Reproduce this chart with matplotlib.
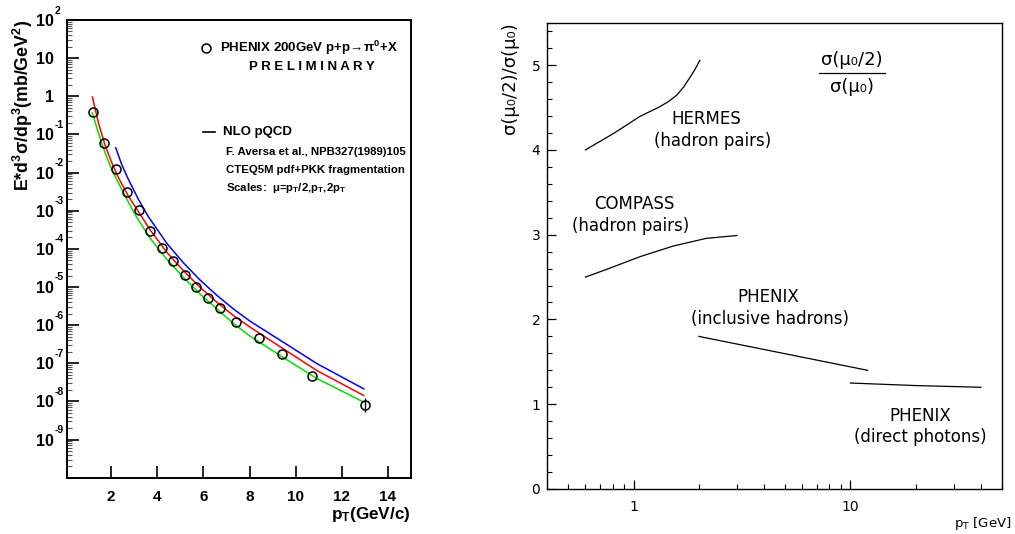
import matplotlib
matplotlib.use("Agg")
import matplotlib.pyplot as plt
from matplotlib.lines import Line2D
from matplotlib import transforms as mtrans
from matplotlib.ticker import FixedLocator, NullFormatter, NullLocator

# ---------------- data: left panel ----------------
pt_data = [1.2, 1.7, 2.2, 2.7, 3.2, 3.7, 4.2, 4.7, 5.2, 5.7, 6.2, 6.7, 7.4, 8.4, 9.4, 10.7, 13.0]
xsec_data = [0.39, 0.059, 0.0123, 3.15e-3, 1.02e-3, 3.0e-4, 1.06e-4, 4.7e-5, 2.1e-5, 9.8e-6,
             5.1e-6, 2.8e-6, 1.2e-6, 4.6e-7, 1.7e-7, 4.6e-8, 8.2e-9]
xsec_err_lo = [0] * 16 + [2.8e-9]
xsec_err_hi = [0] * 16 + [4.0e-9]

# NLO curves (mu = pT red, pT/2 blue, 2pT green)
red_pt = [1.19, 1.45, 1.74, 2.03, 2.32, 2.75, 3.33, 3.69, 4.42, 5.14, 5.86, 6.59, 7.31, 8.03, 9.47, 10.92, 12.95]
red_xsec = [0.955, 0.20, 0.052, 0.018, 7.3e-3, 2.4e-3, 6.9e-4, 3.16e-4, 8.0e-5, 2.65e-5, 9.75e-6,
            3.95e-6, 1.77e-6, 8.8e-7, 2.38e-7, 6.45e-8, 1.43e-8]
green_pt = [1.19, 1.45, 1.74, 2.03, 2.46, 3.04, 3.69, 4.42, 5.14, 5.86, 6.59, 7.24, 8.03, 9.47, 10.92, 12.95]
green_xsec = [0.365, 0.109, 0.0329, 0.012, 3.6e-3, 7.9e-4, 1.9e-4, 5.25e-5, 1.78e-5, 6.5e-6,
              2.64e-6, 1.19e-6, 5.1e-7, 1.41e-7, 3.98e-8, 9.6e-9]
blue_pt = [2.20, 2.46, 2.75, 3.18, 3.62, 4.42, 5.14, 5.86, 6.59, 7.31, 8.03, 9.47, 10.92, 12.95]
blue_xsec = [0.0447, 0.0162, 6.6e-3, 2.0e-3, 6.9e-4, 1.38e-4, 4.27e-5, 1.51e-5, 6.0e-6, 2.63e-6,
             1.26e-6, 3.55e-7, 9.8e-8, 2.14e-8]

x_ticks_left = [2, 4, 6, 8, 10, 12, 14]
decades = list(range(-9, 3))

# ---------------- data: right panel ----------------
hermes_pt = [0.6, 0.81, 1.07, 1.30, 1.45, 1.58, 1.70, 1.82, 1.92, 2.02]
hermes_ratio = [4.0, 4.195, 4.395, 4.50, 4.57, 4.645, 4.74, 4.855, 4.95, 5.055]
compass_pt = [0.6, 0.75, 1.07, 1.52, 2.16, 3.0]
compass_ratio = [2.50, 2.59, 2.74, 2.865, 2.956, 2.99]
phenix_h_pt = [2.0, 4.9, 12.0]
phenix_h_ratio = [1.80, 1.60, 1.40]
phenix_g_pt = [10.0, 20.0, 40.0]
phenix_g_ratio = [1.25, 1.22, 1.20]

# ---------------- figure ----------------
W, H = 1015, 534
fig = plt.figure(figsize=(W / 100, H / 100), dpi=100)


def fx(px):
    return px / W


def fy(py):
    return 1 - py / H


plt.rcParams['mathtext.fontset'] = 'custom'
plt.rcParams['mathtext.rm'] = 'Liberation Sans:bold'
plt.rcParams['mathtext.it'] = 'Liberation Sans:bold'
plt.rcParams['mathtext.bf'] = 'Liberation Sans:bold'
plt.rcParams['mathtext.sf'] = 'Liberation Sans:bold'

BOLD = dict(family='Liberation Sans', fontweight='bold')

# ---------- left axes ----------
axL = fig.add_axes([fx(67.3), fy(477.7), (411 - 67.3) / W, (477.7 - 20) / H])
axL.set_yscale('log')
axL.set_xlim(0.1, 15)
axL.set_ylim(1e-10, 1e2)
for s in axL.spines.values():
    s.set_linewidth(1.4)

axL.plot(green_pt, green_xsec, color='#00e000', lw=1.1)
axL.plot(red_pt, red_xsec, color='#ff0000', lw=1.1)
axL.plot(blue_pt, blue_xsec, color='#0000ff', lw=1.1)
axL.errorbar(pt_data, xsec_data, yerr=[xsec_err_lo, xsec_err_hi], fmt='o', mfc='none', mec='black',
             ms=6.5, mew=1.1, ecolor='black', elinewidth=1.0, capsize=0)

axL.set_xticks(x_ticks_left)
axL.set_xticklabels([str(v) for v in x_ticks_left], fontsize=11, **BOLD)
axL.tick_params(axis='x', which='major', direction='in', length=8.4, width=1.2, pad=9,
                top=False, bottom=True)
axL.xaxis.set_minor_locator(NullLocator())
axL.yaxis.set_major_locator(FixedLocator([10.0 ** k for k in range(-10, 3)]))
minors = [m * 10.0 ** k for k in range(-10, 2) for m in range(2, 10)]
axL.yaxis.set_minor_locator(FixedLocator(minors))
axL.yaxis.set_major_formatter(NullFormatter())
axL.yaxis.set_minor_formatter(NullFormatter())
axL.tick_params(axis='y', which='major', direction='in', length=8.4, width=1.2, left=True, right=False)
axL.tick_params(axis='y', which='minor', direction='in', length=3.8, width=0.8, color='#555555',
                left=True, right=False)

# manual ROOT-style decade labels
trans = mtrans.blended_transform_factory(axL.transAxes, axL.transData)
base_tr = mtrans.offset_copy(trans, fig=fig, x=-13.5 * 0.72, y=-1.5 * 0.72, units='points')
exp_tr = mtrans.offset_copy(trans, fig=fig, x=-12.8 * 0.72, y=9.5 * 0.72, units='points')
for k in decades:
    base = '1' if k == 0 else '10'
    axL.text(0, 10.0 ** k, base, transform=base_tr, ha='right', va='center', fontsize=11.5, **BOLD)
    if k not in (0, 1):
        axL.text(0, 10.0 ** k, str(k), transform=exp_tr, ha='left', va='center', fontsize=7.5, **BOLD)

fig.text(fx(23), fy(20), r"E*d$^{3}\sigma$/dp$^{3}$(mb/GeV$^{2}$)", rotation=90, ha='center',
         va='top', fontsize=12.8, math_fontfamily='custom', **BOLD)
fig.text(fx(411), fy(515), r"p$_{T}$(GeV/c)", ha='right', va='center', fontsize=12.3,
         math_fontfamily='custom', **BOLD)

# legend-like text
fig.add_artist(Line2D([fx(206)], [fy(48)], marker='o', mfc='none', mec='black', ms=6.5, mew=1.1,
                      transform=fig.transFigure))
fig.text(fx(220), fy(48), r"PHENIX 200GeV p+p$\!\rightarrow\!\pi^{0}$+X", ha='left', va='center',
         fontsize=9.5, math_fontfamily='custom', **BOLD)
fig.text(fx(312), fy(67), "P R E L I M I N A R Y", ha='center', va='center', fontsize=9.5, **BOLD)
fig.add_artist(Line2D([fx(203), fx(215)], [fy(132), fy(132)], color='black', lw=1.2,
                      transform=fig.transFigure))
fig.text(fx(223), fy(132), "NLO pQCD", ha='left', va='center', fontsize=9.5, **BOLD)
fig.text(fx(225.5), fy(152), "F. Aversa et al., NPB327(1989)105", ha='left', va='center',
         fontsize=8.2, **BOLD)
fig.text(fx(225.5), fy(170), "CTEQ5M pdf+PKK fragmentation", ha='left', va='center',
         fontsize=8.2, **BOLD)
fig.text(fx(225.5), fy(188), r"Scales:  $\mu$=p$_{T}$/2,p$_{T}$,2p$_{T}$", ha='left', va='center',
         fontsize=8.2, math_fontfamily='custom', **BOLD)

# ---------- right axes ----------
RF = dict(family='DejaVu Sans')
axR = fig.add_axes([fx(547.3), fy(489), (1002 - 547.3) / W, (489 - 22.7) / H])
axR.set_xscale('log')
axR.set_xlim(0.4, 50)
axR.set_ylim(0, 5.5)
for s in axR.spines.values():
    s.set_linewidth(1.0)

for xs, ys in [(hermes_pt, hermes_ratio), (compass_pt, compass_ratio),
               (phenix_h_pt, phenix_h_ratio), (phenix_g_pt, phenix_g_ratio)]:
    axR.plot(xs, ys, color='black', lw=0.9)

axR.xaxis.set_major_locator(FixedLocator([1, 10]))
axR.xaxis.set_minor_locator(FixedLocator([0.5, 0.6, 0.7, 0.8, 0.9] + list(range(2, 10)) +
                                         [20, 30, 40, 50]))
axR.xaxis.set_minor_formatter(NullFormatter())
axR.set_xticklabels(['1', '10'], fontsize=10, **RF)
axR.yaxis.set_major_locator(FixedLocator([0, 1, 2, 3, 4, 5]))
axR.yaxis.set_minor_locator(FixedLocator([i * 0.2 for i in range(0, 28)]))
axR.set_yticklabels(['0', '1', '2', '3', '4', '5'], fontsize=10, **RF)
axR.tick_params(which='major', direction='in', length=6.5, width=0.9, top=False, right=False)
axR.tick_params(which='minor', direction='in', length=3.6, width=0.8, top=False, right=False)
axR.tick_params(axis='x', which='major', pad=8)
axR.tick_params(axis='y', which='major', pad=5)

fig.text(fx(510), fy(22), "σ(μ₀/2)/σ(μ₀)", rotation=90, ha='center', va='top', fontsize=13, **RF)
fig.text(fx(1012), fy(524), r"p$_{\mathregular{T}}$ [GeV]", ha='right', va='center', fontsize=9.5,
         math_fontfamily='dejavusans', **RF)

labels_right = [
    (706, 119, "HERMES"), (713, 141.5, "(hadron pairs)"),
    (634, 204, "COMPASS"), (631, 226, "(hadron pairs)"),
    (768, 297, "PHENIX"), (770, 319, "(inclusive hadrons)"),
    (920, 416, "PHENIX"), (920, 437, "(direct photons)"),
]
for px, py, t in labels_right:
    fig.text(fx(px), fy(py), t, ha='center', va='center', fontsize=12, **RF)

fig.text(fx(852), fy(60), "σ(μ₀/2)", ha='center', va='center', fontsize=13, **RF)
fig.add_artist(Line2D([fx(819), fx(885)], [fy(73), fy(73)], color='black', lw=0.9,
                      transform=fig.transFigure))
fig.text(fx(852), fy(87), "σ(μ₀)", ha='center', va='center', fontsize=13, **RF)

fig.savefig("out.png", dpi=100)
